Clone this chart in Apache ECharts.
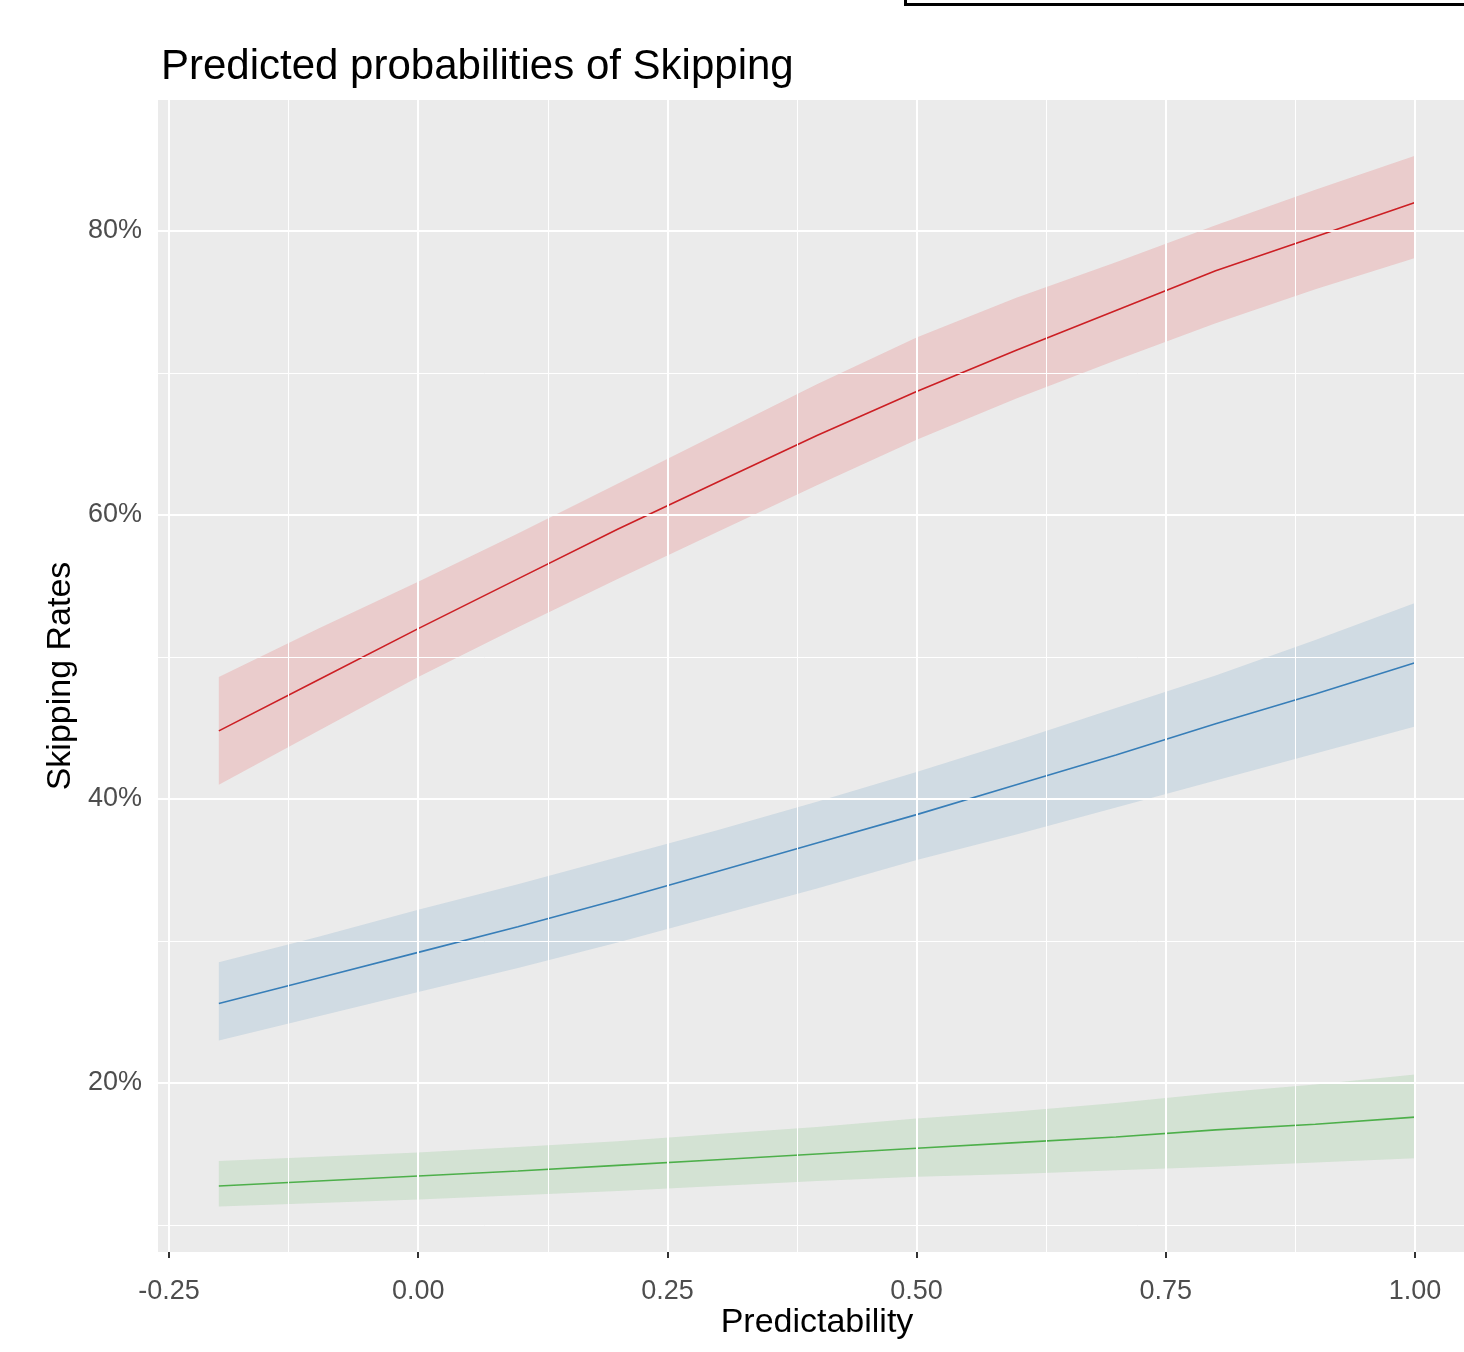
<!DOCTYPE html>
<html><head><meta charset="utf-8">
<script src="https://cdn.jsdelivr.net/npm/echarts@6/dist/echarts.min.js"></script>
<style>html,body{margin:0;padding:0;background:#fff}#c{width:1464px;height:1352px}</style>
</head><body><div id="c"></div>
<script>
// Data (percent)
const predictability = [-0.2, -0.1, 0.0, 0.1, 0.2, 0.3, 0.4, 0.5, 0.6, 0.7, 0.8, 0.9, 1.0];
const redFit   = [44.8, 48.4, 52.0, 55.5, 59.0, 62.3, 65.6, 68.7, 71.6, 74.4, 77.2, 79.6, 82.0];
const redHigh  = [48.6, 52.0, 55.3, 58.7, 62.2, 65.7, 69.2, 72.5, 75.3, 77.8, 80.4, 82.9, 85.3];
const redLow   = [41.0, 44.8, 48.6, 52.1, 55.5, 58.8, 62.1, 65.3, 68.2, 70.9, 73.5, 75.9, 78.1];
const blueFit  = [25.6, 27.4, 29.2, 31.0, 32.9, 34.9, 36.9, 38.9, 41.0, 43.1, 45.3, 47.4, 49.6];
const blueHigh = [28.5, 30.3, 32.2, 34.0, 35.9, 37.8, 39.8, 41.9, 44.1, 46.4, 48.7, 51.2, 53.8];
const blueLow  = [23.0, 24.7, 26.4, 28.1, 29.9, 31.8, 33.7, 35.7, 37.5, 39.4, 41.3, 43.2, 45.1];
const greenFit  = [12.75, 13.1, 13.45, 13.8, 14.2, 14.6, 15.0, 15.4, 15.8, 16.2, 16.7, 17.1, 17.6];
const greenHigh = [14.5, 14.8, 15.1, 15.5, 15.9, 16.4, 16.9, 17.5, 18.0, 18.6, 19.3, 19.9, 20.6];
const greenLow  = [11.3, 11.55, 11.8, 12.1, 12.4, 12.75, 13.1, 13.4, 13.6, 13.85, 14.1, 14.4, 14.7];

const xTicks = [-0.25, 0.0, 0.25, 0.5, 0.75, 1.0];
const xMinor = [-0.125, 0.125, 0.375, 0.625, 0.875];
const yTicks = [20, 40, 60, 80];
const yMinor = [10, 30, 50, 70];

const FONT = "'Liberation Sans', Arial, sans-serif";
const chart = echarts.init(document.getElementById('c'), null, {renderer: 'canvas'});

function band(lo, hi, color) {
  return {
    type: 'custom', coordinateSystem: 'cartesian2d', z: 2, silent: true, clip: true,
    data: predictability.map((x, i) => [x, lo[i], hi[i]]),
    encode: {x: 0, y: [1, 2]},
    renderItem: (params, api) => {
      if (params.dataIndex !== 0) return null;
      const pts = [];
      for (let i = 0; i < predictability.length; i++) pts.push(api.coord([predictability[i], hi[i]]));
      for (let i = predictability.length - 1; i >= 0; i--) pts.push(api.coord([predictability[i], lo[i]]));
      return {type: 'polygon', shape: {points: pts}, style: {fill: color, stroke: null}};
    }
  };
}
function fitLine(vals, color) {
  return {
    type: 'line', z: 3, silent: true, showSymbol: false, symbol: 'none',
    data: predictability.map((x, i) => [x, vals[i]]),
    lineStyle: {color: color, width: 1.6}, animation: false
  };
}

const gridLines = [];
xTicks.forEach(v => gridLines.push({xAxis: v, lineStyle: {width: 2}}));
xMinor.forEach(v => gridLines.push({xAxis: v, lineStyle: {width: 1}}));
yTicks.forEach(v => gridLines.push({yAxis: v, lineStyle: {width: 2}}));
yMinor.forEach(v => gridLines.push({yAxis: v, lineStyle: {width: 1}}));

chart.setOption({
  animation: false,
  backgroundColor: '#ffffff',
  title: {
    text: 'Predicted probabilities of Skipping', left: 156, top: 41,
    textStyle: {fontFamily: FONT, fontSize: 42, fontWeight: 'normal', color: '#000'}
  },
  grid: {
    left: 158, top: 100, right: 0, height: 1152,
    show: true, backgroundColor: '#EBEBEB', borderWidth: 0, containLabel: false
  },
  xAxis: {
    type: 'value', min: -0.26104, max: 1.04916,
    name: 'Predictability', nameLocation: 'middle', nameGap: 54, nameMoveOverlap: false,
    nameTextStyle: {fontFamily: FONT, fontSize: 34, color: '#000', padding: [0, 0, 0, 12]},
    axisLine: {show: false},
    axisTick: {show: true, customValues: xTicks, length: 6, lineStyle: {color: '#333', width: 2}},
    axisLabel: {customValues: xTicks, formatter: v => v.toFixed(2), margin: 26,
      fontFamily: FONT, fontSize: 27, color: '#4D4D4D'},
    splitLine: {show: false}
  },
  yAxis: {
    type: 'value', min: 8.099, max: 89.225,
    name: 'Skipping Rates', nameLocation: 'middle', nameGap: 80, nameRotate: 90, nameMoveOverlap: false,
    nameTextStyle: {fontFamily: FONT, fontSize: 34, color: '#000'},
    axisLine: {show: false},
    axisTick: {show: true, customValues: yTicks, length: 6, lineStyle: {color: '#333', width: 2}},
    axisLabel: {customValues: yTicks, formatter: v => v + '%', margin: 16,
      fontFamily: FONT, fontSize: 27, color: '#4D4D4D'},
    splitLine: {show: false}
  },
  graphic: [{
    type: 'rect', shape: {x: 905.5, y: -60, width: 700, height: 64.5},
    style: {fill: 'none', stroke: '#000', lineWidth: 3}, silent: true
  }],
  series: [
    {
      type: 'line', z: 1, silent: true, showSymbol: false, symbol: 'none',
      data: predictability.map((x, i) => [x, redFit[i]]),
      lineStyle: {opacity: 0, width: 0},
      markLine: {silent: true, symbol: ['none', 'none'], label: {show: false}, animation: false,
        lineStyle: {color: '#FFFFFF', type: 'solid'}, data: gridLines}
    },
    band(redLow, redHigh, 'rgba(228,26,28,0.15)'),
    band(blueLow, blueHigh, 'rgba(55,126,184,0.15)'),
    band(greenLow, greenHigh, 'rgba(77,175,74,0.15)'),
    fitLine(redFit, '#CC1F24'),
    fitLine(blueFit, '#377EB8'),
    fitLine(greenFit, '#4DAF4A')
  ]
});
</script>
</body></html>
